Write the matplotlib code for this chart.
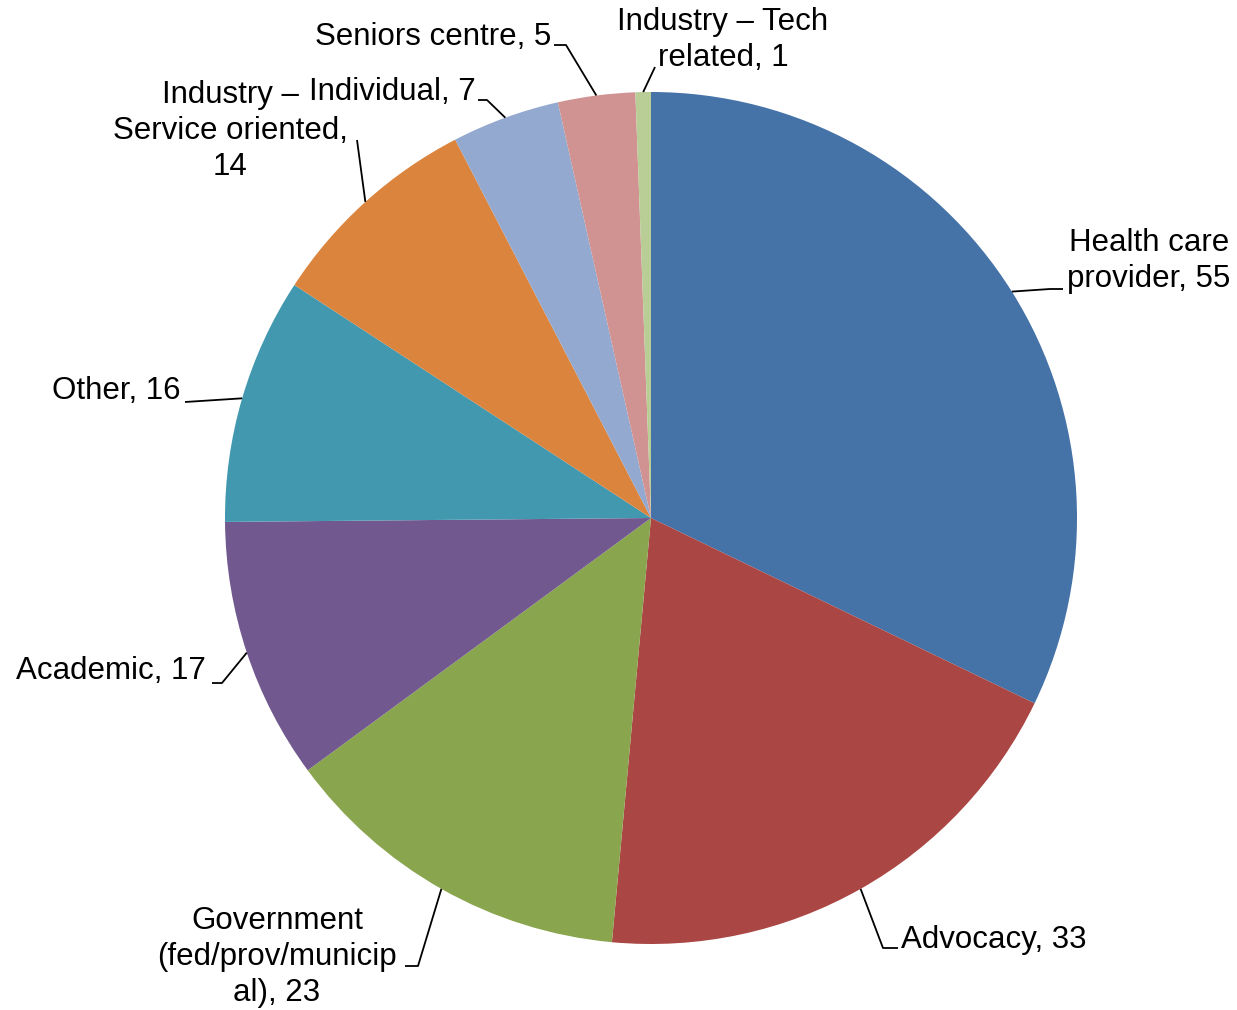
import numpy as np
import matplotlib
matplotlib.use("Agg")
import matplotlib.pyplot as plt

plt.rcParams['font.family'] = ['Liberation Sans', 'DejaVu Sans']

categories = ["Health care\nprovider", "Advocacy", "Government\n(fed/prov/municip\nal)",
              "Academic", "Other", "Industry –\nService oriented,\n", "Individual",
              "Seniors centre", "Industry – Tech\nrelated"]
values = [55, 33, 23, 17, 16, 14, 7, 5, 1]
colors = ["#4572A7", "#AA4643", "#89A54E", "#71588F", "#4198AF",
          "#DB843D", "#93A9CF", "#D19392", "#B9CD96"]

W, H = 1237, 1010
fig = plt.figure(figsize=(W / 100, H / 100), dpi=100)
ax = fig.add_axes([0, 0, 1, 1])

cx, cy_px, R = 651, 518, 426
cy = H - cy_px
wedges, _ = ax.pie(values, colors=colors, startangle=90, counterclock=False,
                   center=(cx, cy), radius=R, frame=True,
                   wedgeprops=dict(linewidth=0))
ax.set_xlim(0, W)
ax.set_ylim(0, H)
ax.set_aspect('equal')
ax.axis('off')

# label layout (pixel coords, y downward)
lab_layout = [
    dict(xy=(1149, 261), ha='center', path=[(1050, 289), (1063, 289)]),
    dict(xy=(901, 940), ha='left', path=[(883, 948), (898, 948)]),
    dict(xy=(277, 957), ha='center', path=[(418, 966), (405, 966)]),
    dict(xy=(206, 671), ha='right', path=[(222, 683), (212, 683)]),
    dict(xy=(181, 391), ha='right', path=[(185, 402)]),
    dict(xy=(230, 131), ha='center', path=[(357, 140)]),
    dict(xy=(476, 92), ha='right', path=[(487, 100), (478, 100)]),
    dict(xy=(551, 37), ha='right', path=[(566, 45), (554, 45)]),
    dict(xy=(723, 40), ha='center', path=[(655, 67)]),
]

total = sum(values)
cum = 0
for cat, v, lay in zip(categories, values, lab_layout):
    mid = (cum + v / 2) / total * 2 * np.pi
    cum += v
    sx = cx + R * np.sin(mid)
    sy = cy + R * np.cos(mid)
    if cat.endswith("\n"):
        text = cat + f"{v}"
    else:
        text = f"{cat}, {v}"
    tx, ty = lay['xy']
    ax.text(tx, H - ty, text, ha=lay['ha'], va='center', fontsize=22.5,
            linespacing=1.24, multialignment='center', color='black')
    xs = [sx] + [p[0] for p in lay['path']]
    ys = [sy] + [H - p[1] for p in lay['path']]
    ax.plot(xs, ys, color='black', lw=1.3, solid_capstyle='butt')

fig.savefig("out.png", dpi=100, facecolor='white')
